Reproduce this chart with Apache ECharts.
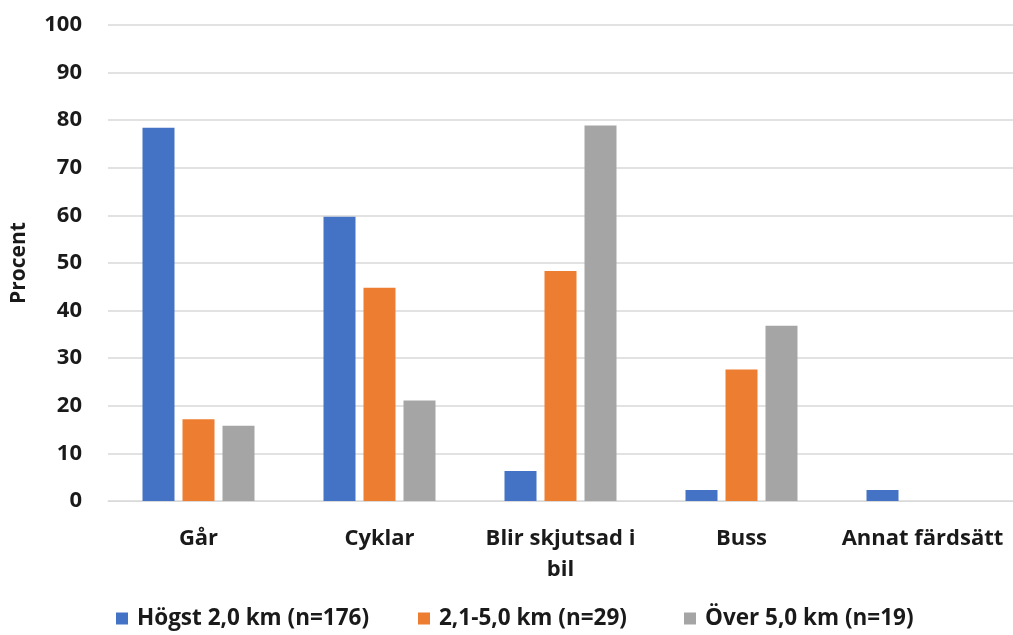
<!DOCTYPE html>
<html><head><meta charset="utf-8">
<script src="https://cdn.jsdelivr.net/npm/echarts@6/dist/echarts.min.js"></script>
<style>html,body{margin:0;padding:0;background:#fff}#c{width:1013px;height:635px}</style>
</head><body><div id="c"></div>
<script>
const categories = ['Går', 'Cyklar', 'Blir skjutsad i\nbil', 'Buss', 'Annat färdsätt'];
const seriesNames = ['Högst 2,0 km (n=176)', '2,1-5,0 km (n=29)', 'Över 5,0 km (n=19)'];
const hogst = [78.4, 59.7, 6.3, 2.3, 2.3];
const mellan = [17.2, 44.8, 48.3, 27.6, 0];
const over = [15.8, 21.1, 78.9, 36.8, 0];
const yTicks = [0, 10, 20, 30, 40, 50, 60, 70, 80, 90, 100];
const colors = ['#4472C4', '#ED7D31', '#A5A5A5'];
const font = '"Open Sans", "Liberation Sans", sans-serif';
const legendLeft = [111, 413, 679];

const chart = echarts.init(document.getElementById('c'));
const mk = (name, data, i) => ({
  name, type: 'bar', data, barWidth: 32, barGap: '25%',
  itemStyle: { color: colors[i] }
});
chart.setOption({
  animation: false,
  textStyle: { fontFamily: font },
  grid: { left: 108, right: 0, top: 25, bottom: 134, outerBoundsMode: 'none', containLabel: false },
  legend: seriesNames.map((n, i) => ({
    bottom: 0, left: legendLeft[i], itemWidth: 12, itemHeight: 12,
    icon: 'rect',
    textStyle: { fontSize: 22.5, fontWeight: 'bold', color: '#1a1a1a', fontFamily: font, padding: [0, 0, 0, 4] },
    data: [n]
  })),
  xAxis: {
    type: 'category', data: categories,
    axisLine: { show: true, lineStyle: { color: '#d9d9d9' } },
    axisTick: { show: false },
    axisLabel: { fontSize: 22, fontWeight: 'bold', color: '#1a1a1a', margin: 22, lineHeight: 31, interval: 0 }
  },
  yAxis: {
    type: 'value', min: yTicks[0], max: yTicks[yTicks.length - 1], interval: 10,
    name: 'Procent', nameLocation: 'middle', nameGap: 78, nameRotate: 90,
    nameTextStyle: { fontSize: 21, fontWeight: 'bold', color: '#1a1a1a' },
    axisLine: { show: false }, axisTick: { show: false },
    axisLabel: { fontSize: 22, fontWeight: 'bold', color: '#1a1a1a', margin: 26 },
    splitLine: { lineStyle: { color: '#d9d9d9', width: 1.5 } }
  },
  series: [mk(seriesNames[0], hogst, 0), mk(seriesNames[1], mellan, 1), mk(seriesNames[2], over, 2)]
});
</script></body></html>
